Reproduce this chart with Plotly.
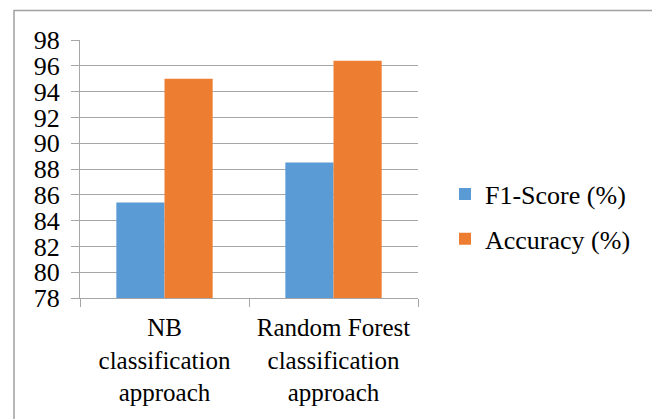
import plotly.graph_objects as go

categories = ["NB<br>classification<br>approach", "Random Forest<br>classification<br>approach"]
f1_score = [85.4, 88.5]
accuracy = [95.0, 96.4]
y_ticks = [78, 80, 82, 84, 86, 88, 90, 92, 94, 96, 98]

FONT = "Liberation Serif"
GRID = "#a6a6a6"

fig = go.Figure()
fig.add_trace(go.Bar(x=categories, y=f1_score, name="F1-Score (%)",
                     marker=dict(color="#5B9BD5", line=dict(width=0)),
                     legendgroup="a"))
fig.add_trace(go.Bar(x=categories, y=accuracy, name="Accuracy (%)",
                     marker=dict(color="#ED7D31", line=dict(width=0)),
                     legendgroup="b"))

OFF = 8  # page body margin
L, R, T, B = 80 - OFF, 418 - OFF, 40 - OFF, 298 - OFF
W, H = 660 - OFF, 419 - OFF

def px(x):
    return (x - OFF - L) / (R - L)

def py(y):
    return (B - (y - OFF)) / (B - T)

fig.update_layout(
    width=W, height=H,
    margin=dict(l=L, r=W - R, t=T, b=H - B, pad=0),
    paper_bgcolor="white", plot_bgcolor="white",
    barmode="group", bargap=0.43, bargroupgap=0,
    font=dict(family=FONT, size=25, color="black"),
    showlegend=True,
    legend=dict(x=px(445), y=py(216.5), xanchor="left", yanchor="middle",
                font=dict(family=FONT, size=26, color="black"),
                traceorder="grouped", tracegroupgap=8,
                bgcolor="rgba(0,0,0,0)"),
    xaxis=dict(showline=True, linecolor=GRID, linewidth=1.3,
               ticks="outside", ticklen=8, tickcolor=GRID, tickwidth=1.3,
               tickson="boundaries", showgrid=False, ticklabelstandoff=7,
               tickfont=dict(family=FONT, size=25, color="black")),
    yaxis=dict(range=[78, 98], tickvals=y_ticks, showline=True,
               linecolor=GRID, linewidth=1.3, showgrid=True,
               gridcolor=GRID, gridwidth=1.3, ticks="outside", ticklen=8,
               tickcolor=GRID, tickwidth=1.3, zeroline=False,
               ticklabelstandoff=6,
               tickfont=dict(family=FONT, size=26, color="black")),
    shapes=[dict(type="rect", xref="paper", yref="paper",
                 x0=px(14), x1=px(656), y0=py(430), y1=py(10.5),
                 line=dict(color="#a0a0a0", width=1.5), layer="below")],
)

fig.write_html("out.html")
